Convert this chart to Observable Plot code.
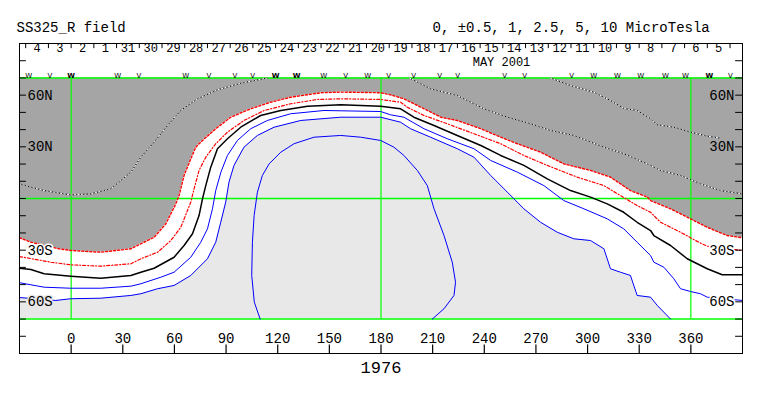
<!DOCTYPE html>
<html><head><meta charset="utf-8">
<script src="https://cdn.jsdelivr.net/npm/d3@7"></script>
<script src="https://cdn.jsdelivr.net/npm/@observablehq/plot@0.6"></script>
<style>body{margin:0;background:#fff;}</style>
</head><body><div id="chart"></div>
<script>
// ---------- texts ----------
const title = "SS325_R field";
const legendText = "0, \u00b10.5, 1, 2.5, 5, 10 MicroTesla";
const monthLabel = "MAY 2001";
const rotationLabel = "1976";

// ---------- axes ----------
const lonTicks = [0, 30, 60, 90, 120, 150, 180, 210, 240, 270, 300, 330, 360];
const latTicks = [-80, -70, -60, -50, -40, -30, -20, -10, 0, 10, 20, 30, 40, 50, 60, 70, 80];
const latLabelValues = [60, 30, -30, -60];
const latLabelNames = ["60N", "30N", "30S", "60S"];
const gridLons = [0, 180, 360];
const gridLats = [-70, 0, 70];

// ---------- date strip (Carrington days) ----------
const dayLabels = ["4","3","2","1","31","30","29","28","27","26","25","24","23","22","21","20","19","18","17","16","15","14","13","12","11","10","9","8","7","6","5"];
const firstDayIndex = -2;
const daysPerRotation = 27.2753;
const monthLabelLon = 250;

// observation markers
const markerLon  = [-24.6,-12.4,0,27.1,39.3,66.6,80.0,95.1,105.5,118.8,131.0,146.7,159.5,172.3,184.5,199.0,214.1,224.5,251.8,263.4,290.7,303.5,317.4,330.8,345.3,356.9,370.8,383.0];
const markerType = ["W","V","W","W","V","W","V","V","V","W","W","W","V","W","V","V","V","V","V","V","V","W","W","W","W","W","W","V"];
const markerBold = [false,false,true,false,false,false,false,false,false,true,true,false,false,false,false,false,false,false,false,false,false,false,false,false,false,false,true,false];

// ---------- contour lines [lon, lat] ----------
// +1 contour: edge of the positive (dark) region
const posOne = [[-30,-22.8],[-23.4,-25.4],[-7.0,-29.2],[0,-30.2],[17.2,-31.2],[34.7,-29.2],[40.5,-26.3],[48.2,-22.5],[55.0,-14.7],[60.8,-3.1],[62.7,1.7],[65.6,13.4],[69.5,23.0],[72.4,29.8],[76.3,33.7],[84.0,40.5],[92.7,47.2],[104.3,52.1],[115.9,55.9],[127.5,58.8],[145.0,61.4],[156.6,61.8],[179.8,61.4],[185.6,60.2],[193.3,57.9],[205.0,52.1],[214.8,47.2],[224.3,45.3],[238.0,40.5],[249.5,35.6],[259.2,31.8],[272.7,26.9],[286.2,20.1],[301.7,16.3],[313.3,12.4],[324.9,4.6],[334.7,0.8],[336.6,-1.2],[348.2,-6.0],[359.8,-11.8],[369.5,-16.7],[381.1,-21.5],[390,-22.8]];
// +0.5 contour
const posHalf = [[-30,-33.7],[-11.7,-37.0],[-0.2,-38.5],[17.2,-39.3],[34.7,-37.9],[40.5,-35.0],[50.2,-31.2],[57.9,-24.4],[63.7,-16.7],[69.5,-2.1],[71.4,5.6],[74.3,16.3],[78.2,24.0],[84.0,31.8],[90.8,38.5],[100.4,45.3],[112.1,51.1],[127.5,55.0],[143.1,57.5],[156.6,57.9],[179.8,57.5],[191.4,55.9],[195.3,53.0],[205.0,48.2],[218.5,43.4],[234.0,37.6],[249.5,31.8],[263.0,25.0],[276.6,19.2],[294.0,12.4],[309.5,7.5],[319.1,1.7],[328.8,-4.1],[336.6,-8.0],[342.4,-13.8],[354.0,-19.6],[364.6,-25.4],[369.5,-27.7],[390,-30.2]];
// 0 contour: neutral line
const neutral = [[-30,-40.5],[-23.4,-41.2],[-15.7,-43.7],[-0.2,-45.1],[17.2,-46.3],[34.7,-44.7],[40.5,-42.8],[48.2,-40.5],[59.8,-34.1],[65.6,-27.3],[70.5,-20.5],[74.3,-9.9],[76.3,-0.2],[78.2,7.5],[81.1,18.2],[85.0,28.9],[90.8,34.7],[98.5,41.4],[110.1,48.2],[121.8,51.1],[137.3,53.6],[156.6,54.4],[179.8,53.6],[191.4,52.1],[199.1,47.2],[210.8,42.4],[224.3,36.6],[238.0,30.8],[249.5,25.0],[263.0,19.2],[276.6,11.4],[290.1,4.6],[301.7,0.8],[311.4,-3.1],[321.0,-8.0],[328.8,-13.8],[336.6,-18.6],[338.5,-21.5],[348.2,-27.3],[357.9,-35.0],[369.5,-40.8],[378.2,-44.3],[390,-44.3]];
// -0.5 contour
const negHalf = [[-30,-48.9],[-23.4,-50.1],[-15.7,-51.5],[-0.2,-52.1],[17.2,-52.1],[34.7,-50.9],[40.5,-49.5],[52.1,-45.7],[59.8,-42.8],[69.5,-34.1],[75.3,-25.4],[79.2,-17.6],[82.1,-6.0],[84.0,4.6],[87.0,15.3],[90.8,25.0],[96.6,33.7],[104.3,40.5],[114.0,45.3],[127.5,49.2],[146.9,51.1],[179.8,50.5],[185.6,48.6],[193.3,47.2],[205.0,40.5],[218.5,34.7],[234.0,28.9],[243.7,22.1],[259.2,15.3],[274.6,7.5],[286.2,-1.2],[297.9,-6.0],[311.4,-11.8],[321.0,-17.6],[328.8,-25.4],[336.6,-33.1],[338.5,-37.0],[344.3,-39.9],[350.1,-46.6],[354.0,-52.4],[359.8,-54.0],[365.6,-55.3],[369.5,-57.3],[390,-59.2]];
// -1 contour: edge of the negative (light) region
const negOne = [[-30,-57.5],[-8.9,-59.2],[-0.2,-58.2],[17.2,-57.9],[34.7,-56.3],[40.5,-55.3],[50.2,-52.4],[59.8,-50.5],[69.5,-44.7],[79.2,-35.0],[84.0,-25.4],[86.9,-13.8],[89.8,-2.1],[91.7,9.5],[94.6,19.2],[100.4,29.8],[108.2,36.6],[117.9,41.4],[133.4,45.3],[156.6,47.2],[179.8,47.2],[191.4,44.3],[197.2,40.5],[208.8,35.6],[224.3,28.9],[234.0,24.0],[243.7,13.4],[253.4,3.7],[263.0,-6.0],[272.7,-13.8],[282.4,-19.6],[292.0,-23.4],[301.7,-24.4],[309.5,-29.2],[313.3,-40.8],[319.1,-42.8],[324.9,-44.7],[328.8,-56.3],[336.6,-57.3],[340.5,-62.1],[348.2,-70]];
// -2.5 contour (closed loop)
const negInner = [[109.8,-70],[106.4,-60.2],[104.9,-44.7],[105.3,-25.4],[106.3,-9.9],[108.2,3.7],[111.1,13.4],[115.0,20.1],[121.8,26.9],[129.5,31.8],[141.1,35.6],[156.6,36.6],[168.2,35.6],[179.8,33.7],[187.5,29.8],[193.3,25.0],[201.1,16.3],[206.9,7.5],[210.8,-6.0],[216.6,-21.5],[221.4,-37.0],[223.3,-48.6],[222.4,-56.3],[216.6,-64.0],[209.8,-70]];
// +2.5 contours inside the positive region
const posInnerA = [[-30,8.5],[-23.4,6.6],[-15.7,4.6],[-0.2,2.1],[11.4,2.7],[23.0,5.6],[34.7,15.3],[40.5,24.0],[48.2,32.7],[56.0,42.4],[63.7,51.1],[73.4,57.9],[85.0,63.1],[98.5,66.9],[114.0,70]];
const posInnerB = [[196.5,70],[208.8,63.7],[224.3,59.8],[239.8,52.1],[253.4,47.2],[266.9,43.4],[278.5,39.5],[292.0,36.6],[309.5,29.8],[321.1,26.0],[334.7,20.1],[342.4,16.3],[354.0,13.4],[365.6,8.5],[377.2,4.6],[390,2.7]];
const posInnerC = [[278.5,70],[290.1,65.6],[303.7,61.7],[313.3,56.9],[321.1,52.3],[328.8,51.1],[336.6,46.3],[340.5,42.8],[350.1,41.4],[359.8,38.5],[369.5,36.2],[376.3,35.2]];

// ---------- build ----------
const rows = a => a.map(([lon, lat]) => ({lon, lat}));
const latMax = 70, latMin = -70, lonMin = -30, lonMax = 390;
const dayWidth = 360 / daysPerRotation;
const dayTicks = d3.range(firstDayIndex, firstDayIndex + dayLabels.length + 1).map(k => k * dayWidth);
const days = dayLabels.map((t, i) => ({lon: (firstDayIndex + i + 0.5) * dayWidth, t}));
const markers = markerLon.map((lon, i) => ({lon, t: markerType[i], bold: markerBold[i]}));
const latLabels = latLabelValues.map((lat, i) => ({lat, t: latLabelNames[i]}));

const GRAY = "#a5a5a5", LIGHT = "#e8e8e8", GREEN = "#00ff00";
const FONT = "Liberation Mono, DejaVu Sans Mono, monospace";
const haloLeft = {"60N": GRAY, "30N": GRAY, "30S": "white", "60S": LIGHT};
const haloRight = {"60N": GRAY, "30N": GRAY, "30S": "white", "60S": "white"};

const chart = Plot.plot({
  width: 763, height: 396,
  marginLeft: 19, marginRight: 21, marginTop: 43, marginBottom: 43,
  x: {domain: [lonMin, lonMax], axis: null},
  y: {domain: [-90, 90], axis: null},
  style: {fontFamily: FONT, fontSize: "14px", background: "white", overflow: "visible"},
  marks: [
    // regions
    Plot.areaY(rows(posOne), {x: "lon", y1: "lat", y2: () => latMax, fill: GRAY, curve: "linear"}),
    Plot.areaY(rows(negOne), {x: "lon", y1: () => latMin, y2: "lat", fill: LIGHT, curve: "linear"}),
    // grid
    Plot.ruleX(gridLons, {y1: latMin, y2: latMax, stroke: GREEN, strokeWidth: 1.2}),
    Plot.ruleY(gridLats, {x1: lonMin, x2: lonMax, stroke: GREEN, strokeWidth: 1.5}),
    // positive inner contours (black/white dashed)
    ...[posInnerA, posInnerB, posInnerC].flatMap(c => [
      Plot.line(rows(c), {x: "lon", y: "lat", stroke: "black", strokeWidth: 1}),
      Plot.line(rows(c), {x: "lon", y: "lat", stroke: "white", strokeWidth: 1, strokeDasharray: "1.5,2"})
    ]),
    // contours
    Plot.line(rows(posOne), {x: "lon", y: "lat", stroke: "#ff0000", strokeWidth: 1.4, strokeDasharray: "2,2"}),
    Plot.line(rows(posHalf), {x: "lon", y: "lat", stroke: "#ff0000", strokeWidth: 1.2, strokeDasharray: "3,2,1,2"}),
    Plot.line(rows(neutral), {x: "lon", y: "lat", stroke: "black", strokeWidth: 1.5}),
    Plot.line(rows(negHalf), {x: "lon", y: "lat", stroke: "#0000ff", strokeWidth: 1}),
    Plot.line(rows(negOne), {x: "lon", y: "lat", stroke: "#0000ff", strokeWidth: 1}),
    Plot.line(rows(negInner), {x: "lon", y: "lat", stroke: "#0000ff", strokeWidth: 1}),
    // frame
    Plot.frame({stroke: "black", strokeWidth: 1}),
    // latitude ticks & labels
    Plot.ruleY(latTicks, {x1: lonMin, x2: lonMin + 4, stroke: "black"}),
    Plot.ruleY(latTicks, {x1: lonMax - 4, x2: lonMax, stroke: "black"}),
    Plot.text(latLabels, {x: lonMin, y: "lat", text: "t", dx: 8, textAnchor: "start", fontSize: 14, fill: "black",
      stroke: d => haloLeft[d.t], strokeWidth: 3}),
    Plot.text(latLabels, {x: lonMax, y: "lat", text: "t", dx: -8, textAnchor: "end", fontSize: 14, fill: "black",
      stroke: d => haloRight[d.t], strokeWidth: 3}),
    // longitude ticks & labels
    Plot.ruleX(lonTicks, {y1: -90, y2: -85, stroke: "black", strokeWidth: 1.2}),
    Plot.text(lonTicks, {x: d => d, y: -90, dy: -15, text: d => String(d), fontSize: 14}),
    Plot.text([rotationLabel], {x: 180, y: -90, dy: 14, text: d => d, fontSize: 17}),
    // date strip
    Plot.ruleX(dayTicks, {y1: 90, y2: 87, stroke: "black"}),
    Plot.text(days, {x: "lon", y: 90, dy: 5, text: "t", fontSize: 12}),
    Plot.text([monthLabel], {x: monthLabelLon, y: 90, dy: 19, text: d => d, fontSize: 12}),
    Plot.text(markers.filter(d => !d.bold), {x: "lon", y: latMax, dy: 0, text: "t", lineAnchor: "bottom",
      fontSize: 7, fontFamily: "DejaVu Sans"}),
    Plot.text(markers.filter(d => d.bold), {x: "lon", y: latMax, dy: 0, text: "t", lineAnchor: "bottom",
      fontSize: 7, fontWeight: "bold", fontFamily: "DejaVu Sans"}),
    // title & legend
    Plot.text([title], {frameAnchor: "top-left", dx: -3, dy: -16, text: d => d, textAnchor: "start", lineAnchor: "middle", fontSize: 14}),
    Plot.text([legendText], {frameAnchor: "top-left", dx: 413, dy: -16, text: d => d, textAnchor: "start", lineAnchor: "middle", fontSize: 14})
  ]
});
document.getElementById("chart").appendChild(chart);
</script>
</body></html>
